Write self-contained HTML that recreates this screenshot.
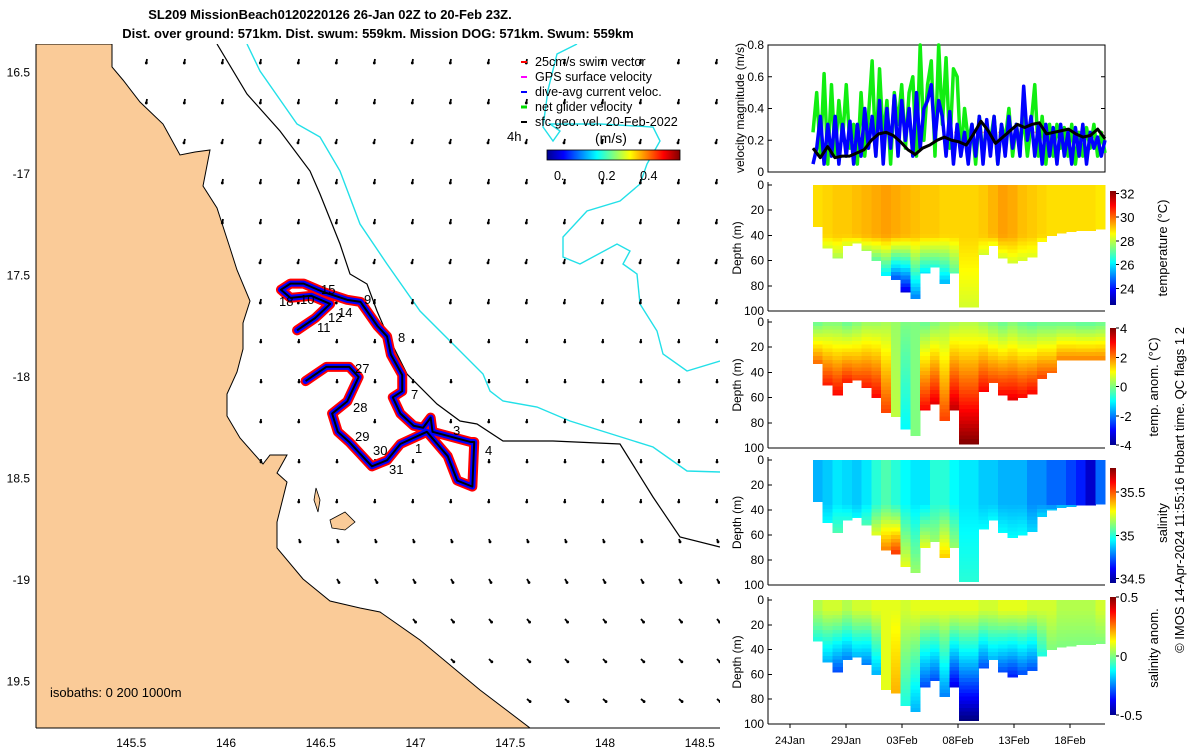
<!DOCTYPE html>
<html><head><meta charset="utf-8"><style>
html,body{margin:0;padding:0;background:#fff;}
svg{display:block;font-family:"Liberation Sans","DejaVu Sans",sans-serif;}
</style></head><body>
<svg id="root" width="1200" height="750" viewBox="0 0 1200 750" xmlns="http://www.w3.org/2000/svg">
<g font-weight="bold" font-size="13" text-anchor="middle" fill="#000">
<text x="330" y="19">SL209 MissionBeach0120220126 26-Jan 02Z to 20-Feb 23Z.</text>
<text x="378" y="38">Dist. over ground: 571km. Dist. swum: 559km. Mission DOG: 571km. Swum: 559km</text>
</g>
<defs><clipPath id="mapclip"><rect x="36" y="44" width="684" height="684"/></clipPath>
<linearGradient id="jetH" x1="0" x2="1" y1="0" y2="0">
<stop offset="0" stop-color="#00008f"/><stop offset="0.125" stop-color="#0000ff"/><stop offset="0.375" stop-color="#00ffff"/><stop offset="0.625" stop-color="#ffff00"/><stop offset="0.875" stop-color="#ff0000"/><stop offset="1" stop-color="#800000"/></linearGradient>
<linearGradient id="jetV" x1="0" x2="0" y1="1" y2="0">
<stop offset="0" stop-color="#00008f"/><stop offset="0.125" stop-color="#0000ff"/><stop offset="0.375" stop-color="#00ffff"/><stop offset="0.625" stop-color="#ffff00"/><stop offset="0.875" stop-color="#ff0000"/><stop offset="1" stop-color="#800000"/></linearGradient>
</defs>
<g id="map" clip-path="url(#mapclip)">
<path id="land" fill="#FACB98" stroke="#000" stroke-width="1" d="M36,44 L112,44 L112,67 L123,80 L140,102 L163,124 L180,155 L195,152 L210,150 L203,186 L217,208 L230,248 L237,270 L250,301 L243,323 L243,349 L237,372 L227,394 L227,416 L240,438 L263,464 L270,455 L287,455 L277,473 L287,482 L277,522 L277,548 L303,579 L330,601 L360,608 L380,612 L420,640 L480,690 L530,728 L36,728 Z"/>
<path fill="#FACB98" stroke="#000" stroke-width="0.8" d="M330,520 L345,512 L355,522 L345,530 L332,528 Z"/>
<path fill="#FACB98" stroke="#000" stroke-width="0.8" d="M316,488 L320,500 L318,512 L314,500 Z"/>
<path fill="none" stroke="#000" stroke-width="1.2" d="M217,44 L247,94 L280,131 L310,171 L320,194 L340,244 L350,274 L367,284 L377,311 L387,334 L407,374 L437,404 L460,421 L477,424 L503,441 L553,441 L620,444 L653,497 L680,537 L720,547"/>
<path fill="none" stroke="#22E0E8" stroke-width="1.4" d="M247,44 L260,71 L297,124 L320,137 L340,171 L360,224 L387,264 L420,311 L453,344 L483,374 L490,391 L503,401 L537,407 L570,421 L653,447 L687,471 L720,472"/>
<path fill="none" stroke="#22E0E8" stroke-width="1.4" d="M577,44 L557,54 L548,90 L543,127 L553,141 L560,131 L550,124 L600,124 L653,127 L660,141 L647,164 L640,184 L620,201 L587,211 L563,237 L563,257 L580,264 L617,244 L630,251 L623,264 L637,274 L640,304 L657,331 L663,354 L687,371 L720,361"/>
<g id="vectors"></g>
<g id="track"></g>
<g font-size="13" fill="#000">
<text x="321" y="294">15</text><text x="279" y="306">18</text><text x="300" y="304">10</text><text x="328" y="322">12</text><text x="338" y="317">14</text><text x="317" y="332">11</text><text x="364" y="304">9</text><text x="398" y="342">8</text><text x="355" y="373">27</text><text x="411" y="399">7</text><text x="353" y="412">28</text><text x="355" y="441">29</text><text x="373" y="455">30</text><text x="453" y="435">3</text><text x="415" y="453">1</text><text x="485" y="455">4</text><text x="389" y="474">31</text>
</g>
<g font-size="12.6" fill="#000">
<line x1="521" y1="62" x2="527" y2="62" stroke="#f00" stroke-width="2"/><text x="535" y="66">25cm/s swim vector</text>
<line x1="521" y1="77" x2="527" y2="77" stroke="#f0f" stroke-width="2"/><text x="535" y="81">GPS surface velocity</text>
<line x1="521" y1="92" x2="527" y2="92" stroke="#00f" stroke-width="2"/><text x="535" y="96">dive-avg current veloc.</text>
<line x1="521" y1="107" x2="527" y2="107" stroke="#0d0" stroke-width="3"/><text x="535" y="111">net glider velocity</text>
<line x1="521" y1="122" x2="527" y2="122" stroke="#000" stroke-width="2"/><text x="535" y="126">sfc geo. vel. 20-Feb-2022</text>
<text x="507" y="141" font-size="13">4h</text>
<text x="595" y="143" font-size="14">(m/s)</text>
<rect x="547" y="150" width="133" height="10" fill="url(#jetH)" stroke="#000" stroke-width="0.8"/>
<text x="554" y="180">0.</text><text x="598" y="180">0.2</text><text x="640" y="180">0.4</text>
</g>
<text x="50" y="697" font-size="13" fill="#000">isobaths: 0   200  1000m</text>
</g>
<g fill="#000" font-size="12">
<line x1="36" y1="44" x2="36" y2="728" stroke="#000"/>
<line x1="36" y1="728" x2="720" y2="728" stroke="#000"/>
<g id="mapxt" text-anchor="middle"></g><g id="mapyt" text-anchor="end"></g>
</g>
<g id="right"></g>
<g font-size="13" fill="#000" text-anchor="middle">
<text transform="translate(1167,248) rotate(-90)">temperature (°C)</text>
<text transform="translate(1158,387) rotate(-90)">temp. anom. (°C)</text>
<text transform="translate(1167,523) rotate(-90)">salinity</text>
<text transform="translate(1158,648) rotate(-90)">salinity anom.</text>
<text transform="translate(1184,490) rotate(-90)">© IMOS 14-Apr-2024 11:55:16 Hobart time. QC flags 1  2</text>
</g>
</svg>
<script>
// ---------- data ----------
const trackLon=[146.375,146.47,146.55,146.45,146.34,146.29,146.34,146.41,146.51,146.64,146.71,146.74,146.80,146.85,146.87,146.93,146.93,146.88,146.92,146.99,147.04,147.08,147.09,147.29,147.31,147.30,147.22,147.17,147.06,146.99,146.92,146.85,146.77,146.71,146.65,146.59,146.56,146.64,146.70,146.65,146.53,146.42];
const trackLat=[-17.77,-17.71,-17.64,-17.60,-17.61,-17.57,-17.54,-17.54,-17.58,-17.62,-17.63,-17.67,-17.75,-17.80,-17.89,-17.99,-18.07,-18.10,-18.18,-18.24,-18.25,-18.20,-18.27,-18.32,-18.32,-18.54,-18.51,-18.39,-18.27,-18.30,-18.33,-18.41,-18.44,-18.38,-18.32,-18.27,-18.18,-18.12,-18.00,-17.95,-17.95,-18.02];
const vecRowAngle=[100,100,105,100,100,105,100,95,90,95,90,95,70,60,50,45,40];
const vecRowLen=[4,4,4,4,4,4,4,3,3,3,3,3,3,4,4,4,4];
const mapLonTicks=[145.5,146,146.5,147,147.5,148,148.5];
const mapLatTicks=[-16.5,-17,-17.5,-18,-18.5,-19,-19.5];
const mapLatLabels=["16.5","-17","17.5","-18","18.5","-19","19.5"];
const velGreen=[0.25,0.5,0.1,0.62,0.05,0.55,0.1,0.45,0.2,0.55,0.15,0.3,0.05,0.5,0.1,0.35,0.7,0.1,0.65,0.2,0.45,0.05,0.5,0.3,0.55,0.15,0.5,0.6,0.1,0.8,0.2,0.55,0.7,0.1,0.8,0.3,0.72,0.15,0.65,0.6,0.1,0.4,0.2,0.3,0.05,0.35,0.1,0.3,0.2,0.35,0.05,0.3,0.2,0.4,0.1,0.3,0.15,0.35,0.1,0.3,0.55,0.1,0.35,0.05,0.3,0.1,0.3,0.15,0.28,0.1,0.3,0.05,0.25,0.1,0.28,0.15,0.3,0.1,0.25,0.12];
const velBlue=[0.05,0.15,0.35,0.05,0.3,0.1,0.35,0.05,0.3,0.1,0.32,0.05,0.3,0.1,0.4,0.15,0.35,0.1,0.45,0.05,0.4,0.15,0.48,0.1,0.45,0.2,0.4,0.1,0.5,0.15,0.4,0.45,0.55,0.2,0.45,0.35,0.1,0.38,0.05,0.3,0.1,0.25,0.05,0.3,0.1,0.35,0.05,0.33,0.1,0.35,0.05,0.3,0.1,0.35,0.15,0.3,0.1,0.54,0.2,0.35,0.1,0.3,0.05,0.3,0.1,0.28,0.05,0.3,0.1,0.25,0.05,0.28,0.1,0.3,0.05,0.25,0.15,0.22,0.1,0.2];
const velBlack=[0.15,0.09,0.16,0.09,0.10,0.10,0.12,0.14,0.20,0.24,0.25,0.23,0.19,0.14,0.11,0.15,0.17,0.20,0.22,0.20,0.19,0.17,0.24,0.32,0.26,0.18,0.22,0.26,0.30,0.28,0.30,0.31,0.24,0.25,0.26,0.27,0.24,0.22,0.23,0.27,0.21];
const velTicks=[0,0.2,0.4,0.6,0.8];
const diveDepth=[33,50,58,48,46,52,60,72,75,85,90,70,65,78,70,97,97,55,48,58,62,60,57,45,40,38,37,36,36,35];
const tempTop=[28.9,29.0,29.1,29.1,29.2,29.3,29.4,29.5,29.4,29.3,29.2,29.1,29.1,29.0,29.0,29.0,29.0,29.1,29.3,29.5,29.4,29.2,29.1,29.0,28.9,28.9,28.9,28.9,28.9,28.8];
const tempBot=[28.5,28.2,27.8,28.2,28.3,27.8,27.0,26.0,24.5,23.5,25,26,26.5,25.5,27,28.2,28.2,28.2,28.4,28.2,28.2,28.2,28.3,28.5,28.5,28.6,28.6,28.6,28.6,28.6];
const anomTop=[-0.2,0,0,-0.2,0,0.2,0.2,0.3,0.2,0,0,-0.2,0,0.2,0.3,0.4,0.4,0.2,0,-0.2,0,-0.2,-0.3,-0.2,-0.2,-0.2,-0.2,-0.3,-0.3,-0.2];
const anomBot=[2.2,2.8,3.0,2.8,2.5,2.8,3.0,2.5,0.5,-1,0,3.0,3.2,2.5,3.5,4,4,3.0,2.5,3,3.2,3.0,3.0,2.5,2.2,2,2,2,2,2];
const salTop=[34.85,34.88,34.92,34.9,34.88,34.92,35.0,35.05,35.0,34.95,34.92,34.92,35.0,35.0,34.95,34.92,34.92,34.88,34.88,34.85,34.85,34.85,34.8,34.8,34.75,34.75,34.7,34.65,34.55,34.75];
const salBot=[34.92,34.95,35.05,35.0,34.95,35.05,35.25,35.45,35.55,35.25,35.15,35.25,35.15,35.35,35.15,35.0,35.0,34.95,34.95,34.95,34.95,34.95,34.9,34.9,34.88,34.88,34.85,34.8,34.75,34.85];
const saTop=[0.05,0.08,0.08,0.05,0.08,0.08,0.1,0.1,0.1,0.08,0.1,0.1,0.1,0.1,0.1,0.1,0.1,0.08,0.08,0.1,0.1,0.1,0.08,0.08,0.08,0.05,0.05,0.05,0.05,0.08];
const saBot=[-0.1,-0.2,-0.3,-0.25,-0.2,-0.25,-0.2,0.1,0.2,-0.1,-0.2,-0.3,-0.3,-0.25,-0.4,-0.5,-0.5,-0.3,-0.2,-0.3,-0.35,-0.3,-0.3,-0.1,0,0,0,0,0,0];
const dateLabels=["24Jan","29Jan","03Feb","08Feb","13Feb","18Feb"];
const dateDays=[24,29,34,39,44,49];
const depthTicks=[0,20,40,60,80,100];

// ---------- helpers ----------
const NS="http://www.w3.org/2000/svg";
function mk(tag,attrs,parent){const e=document.createElementNS(NS,tag);for(const k in attrs)e.setAttribute(k,attrs[k]);parent.appendChild(e);return e;}
const lonX=lon=>226+(lon-146)*189.5;
const latY=lat=>377-(lat+18)*203;
function jet(t){t=Math.max(0,Math.min(1,t));const c=v=>Math.round(255*Math.max(0,Math.min(1,v)));return `rgb(${c(1.5-Math.abs(4*t-3))},${c(1.5-Math.abs(4*t-2))},${c(1.5-Math.abs(4*t-1))})`;}

const mxt=document.getElementById('mapxt');
mapLonTicks.forEach(v=>{const t=mk('text',{x:lonX(v),y:747},mxt);t.textContent=v;

});
const myt=document.getElementById('mapyt');
mapLatTicks.forEach((v,i)=>{const t=mk('text',{x:30,y:latY(v)+4},myt);t.textContent=mapLatLabels[i];

});

const land=document.getElementById('land');
const vg=document.getElementById('vectors');
for(let r=0;r<17;r++){const y=59+r*40;for(let c=0;c<18;c++){const x=71+c*38;
 let onLand=false;try{onLand=land.isPointInFill(new DOMPoint(x,y));}catch(e){}
 if(onLand)continue;
 const a=vecRowAngle[r]*Math.PI/180,L=vecRowLen[r];
 const l=mk('line',{x1:x,y1:y,x2:x+L*Math.cos(a),y2:y+L*Math.sin(a),stroke:'#000','stroke-width':1.8},vg);
 
 
 mk('circle',{cx:x+L*Math.cos(a),cy:y+L*Math.sin(a),r:1.4,fill:'#000'},vg);
}}

const tg=document.getElementById('track');
const pts=trackLon.map((v,i)=>lonX(v)+','+latY(trackLat[i])).join(' ');
const tr1=mk('polyline',{points:pts,fill:'none',stroke:'#f00','stroke-width':10,'stroke-linejoin':'round','stroke-linecap':'round'},tg);


const tr2=mk('polyline',{points:pts,fill:'none',stroke:'#00f','stroke-width':6,'stroke-linejoin':'round','stroke-linecap':'round'},tg);


const tr3=mk('polyline',{points:pts,fill:'none',stroke:'#000','stroke-width':2,'stroke-linejoin':'round'},tg);



const R=document.getElementById('right');
const PX0=768,PX1=1105,DX0=813,DX1=1105;
const dayX=d=>790+(d-24)*11.2;
const vy0=45,vy1=172;const vY=v=>vy1-(v/0.8)*(vy1-vy0);
const vp=mk('g',{},R);


mk('rect',{x:PX0,y:vy0,width:PX1-PX0,height:vy1-vy0,fill:'none',stroke:'#000','stroke-width':1},vp);
velTicks.forEach(v=>{const t=mk('text',{x:764,y:vY(v)+4,'font-size':12,'text-anchor':'end'},vp);t.textContent=v===0?'0':v.toFixed(1);


mk('line',{x1:PX0,x2:PX0+4,y1:vY(v),y2:vY(v),stroke:'#000'},vp);mk('line',{x1:PX1-4,x2:PX1,y1:vY(v),y2:vY(v),stroke:'#000'},vp);});
const vl=mk('text',{transform:'translate(744,108) rotate(-90)','font-size':12,'text-anchor':'middle'},vp);vl.textContent='velocity magnitude (m/s)';


function series(arr,color,w,name){const n=arr.length;const p=arr.map((v,i)=>(DX0+i*(DX1-DX0)/(n-1))+','+vY(v)).join(' ');
 const s=mk('polyline',{points:p,fill:'none',stroke:color,'stroke-width':w,'stroke-linejoin':'round'},vp);
 
 }
mk('line',{x1:950,x2:1105,y1:vY(0.25),y2:vY(0.25),stroke:'#f99','stroke-width':1.5,'stroke-dasharray':'2,2'},vp);
series(velGreen,'#11ee11',3.5,'net-glider-velocity-line');
series(velBlue,'#0000ff',3.5,'dive-avg-current-line');
series(velBlack,'#000',3,'geostrophic-velocity-line');

const panels=[
 {name:'temperature-section',y0:185,y1:311,knee:40,top:tempTop,bot:tempBot,vmin:22.6,vmax:32.2,cb0:191,cb1:305,ticks:[24,26,28,30,32],tl:['24','26','28','30','32']},
 {name:'temp-anomaly-section',y0:322,y1:448,knee:0,top:anomTop,bot:anomBot,vmin:-4,vmax:4,cb0:328,cb1:445,ticks:[-4,-2,0,2,4],tl:['-4','-2','0','2','4']},
 {name:'salinity-section',y0:460,y1:585,knee:35,top:salTop,bot:salBot,vmin:34.45,vmax:35.78,cb0:468,cb1:583,ticks:[34.5,35,35.5],tl:['34.5','35','35.5']},
 {name:'salinity-anomaly-section',y0:600,y1:724,knee:8,top:saTop,bot:saBot,vmin:-0.5,vmax:0.5,cb0:597,cb1:715,ticks:[-0.5,0,0.5],tl:['-0.5','0','0.5']}
];
const STEP=3;
panels.forEach((P,pi)=>{
 const g=mk('g',{'shape-rendering':'crispEdges'},R);
 
 
 const dY=d=>P.y0+(d/100)*(P.y1-P.y0);
 const tN=v=>(v-P.vmin)/(P.vmax-P.vmin);
 const n=diveDepth.length,cw=(DX1-DX0)/n;
 let depths=diveDepth.slice();
 if(pi===1){depths=depths.map((d,i)=>i>=25?30:d);}
 depths.forEach((d,i)=>{
  const a=P.top[i],b=P.bot[i];
  const col=mk('g',{},g);
  
  
  for(let z=0;z<d;z+=STEP){
   const zc=Math.min(d,z+STEP/2);
   const f=zc<=P.knee?0:(zc-P.knee)/Math.max(1,(d-P.knee));
   const v=a+(b-a)*f;
   const z2=Math.min(d,z+STEP);
   mk('rect',{x:(DX0+i*cw).toFixed(2),y:dY(z).toFixed(2),width:(cw+0.6).toFixed(2),height:(dY(z2)-dY(z)+0.5).toFixed(2),fill:jet(tN(v))},col);
  }
 });
 mk('line',{x1:PX0,x2:PX0,y1:P.y0-3,y2:P.y1,stroke:'#000'},g);
 mk('line',{x1:PX0,x2:PX1,y1:P.y1,y2:P.y1,stroke:'#000'},g);
 depthTicks.forEach(d=>{const t=mk('text',{x:764,y:dY(d)+4,'font-size':12,'text-anchor':'end'},g);t.textContent=d;
  
  
  mk('line',{x1:PX0,x2:PX0+4,y1:dY(d),y2:dY(d),stroke:'#000'},g);});
 const yl=mk('text',{transform:`translate(741,${(P.y0+P.y1)/2}) rotate(-90)`,'font-size':12,'text-anchor':'middle'},g);yl.textContent='Depth (m)';
 
 
 const cb=mk('rect',{x:1110,y:P.cb0,width:6,height:P.cb1-P.cb0,fill:'url(#jetV)'},g);
 
 
 P.ticks.forEach((v,k)=>{const y=P.cb1-tN(v)*(P.cb1-P.cb0);
  mk('line',{x1:1116,x2:1119,y1:y,y2:y,stroke:'#000'},g);
  const t=mk('text',{x:1120,y:y+5,'font-size':13},g);t.textContent=P.tl[k];
  
  });
});
const dg=mk('g',{},R);


dateDays.forEach((d,i)=>{const x=dayX(d);mk('line',{x1:x,x2:x,y1:724,y2:728,stroke:'#000'},dg);
 const t=mk('text',{x:x,y:744,'font-size':11,'text-anchor':'middle'},dg);t.textContent=dateLabels[i];
 
 });
</script>
</body></html>
